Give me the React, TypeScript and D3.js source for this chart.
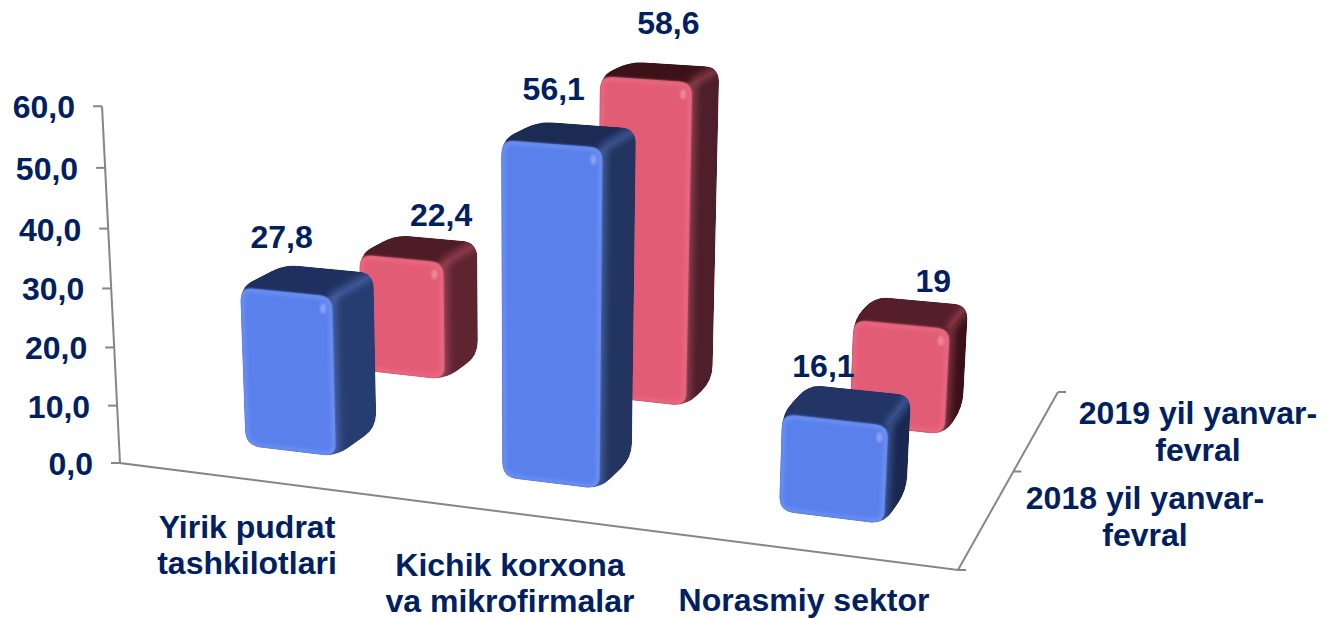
import * as d3 from "d3";

const categories = ["Yirik pudrat tashkilotlari", "Kichik korxona va mikrofirmalar", "Norasmiy sektor"];
const categoryLines = [["Yirik pudrat", "tashkilotlari"], ["Kichik korxona", "va mikrofirmalar"], ["Norasmiy sektor"]];
const seriesNames = ["2018 yil yanvar-fevral", "2019 yil yanvar-fevral"];
const seriesLines = [["2018 yil yanvar-", "fevral"], ["2019 yil yanvar-", "fevral"]];
const values2018 = [27.8, 56.1, 16.1];
const values2019 = [22.4, 58.6, 19];
const labels2018 = ["27,8", "56,1", "16,1"];
const labels2019 = ["22,4", "58,6", "19"];
const yTicks = [0, 10, 20, 30, 40, 50, 60];

// floor corners of the 3d box on screen: front-left, front-right, back-right, back-left
const floor = [[120, 463], [958, 570], [1058, 392], [358, 320]];
const navy = "#002060";
const axisGrey = "#868686";
const fontSize = 32;

const [x0, y0] = floor[0], [x1, y1] = floor[1], [x2, y2] = floor[2], [x3, y3] = floor[3];
const sx = x0 - x1 + x2 - x3, sy = y0 - y1 + y2 - y3;
const dx1 = x1 - x2, dx2 = x3 - x2, dy1 = y1 - y2, dy2 = y3 - y2;
const det = dx1 * dy2 - dx2 * dy1;
const g = (sx * dy2 - dx2 * sy) / det;
const h = (dx1 * sy - sx * dy1) / det;
// column for the value direction
const zw = -0.0007, zx = -0.371, zy = -6.02;

function project(u: number, v: number, val: number): [number, number] {
  const s = u / 3, t = v / 2;
  const w = g * s + h * t + 1 + zw * val;
  const X = (x1 - x0 + g * x1) * s + (x3 - x0 + h * x3) * t + x0 + zx * val;
  const Y = (y1 - y0 + g * y1) * s + (y3 - y0 + h * y3) * t + y0 + zy * val;
  return [X / w, Y / w];
}

const uScale = d3.scaleBand<string>().domain(categories).range([0.008, 3.008]).paddingInner(0.64).paddingOuter(0.32);
const vScale = d3.scaleBand<string>().domain(seriesNames).range([0, 2]).paddingInner(0.65).paddingOuter(0.325);
const yScale = d3.scaleLinear().domain([0, 60]).range([0, 60]);

function rounded(points: [number, number][], r: number) {
  const p = d3.path();
  const n = points.length;
  points.forEach((pt, i) => {
    const prev = points[(i + n - 1) % n], next = points[(i + 1) % n];
    const toward = (a: [number, number], b: [number, number]) => {
      const d = Math.hypot(b[0] - a[0], b[1] - a[1]);
      const k = Math.min(r, d / 2) / d;
      return [a[0] + (b[0] - a[0]) * k, a[1] + (b[1] - a[1]) * k];
    };
    const a = toward(pt, prev), b = toward(pt, next);
    if (i === 0) p.moveTo(a[0], a[1]);
    else p.lineTo(a[0], a[1]);
    p.quadraticCurveTo(pt[0], pt[1], b[0], b[1]);
  });
  p.closePath();
  return p.toString();
}

const polygon = (pts: [number, number][]) => d3.line()(pts) + "Z";

const blueStyle = { front: "#5A80EC", edge: "#7FA2FF", side: ["#273C70", "#22345F", "#182850"], top: ["#1F3060", "#1B2B54", "#223566"] };
const pinkStyle = { front: "#E25B74", edge: "#F77890", side: ["#5E2430", "#4E1E2A", "#3C1018"], top: ["#4E1C26", "#3C1218", "#561E2A"] };

function Bar({ id, cat, series, value, style }: any) {
  const i = categories.indexOf(cat);
  const uL = uScale(cat)!, uR = uL + uScale.bandwidth();
  const vF = vScale(series)!, vB = vF + vScale.bandwidth();
  const top = yScale(value);
  const fbl = project(uL, vF, 0), fbr = project(uR, vF, 0), bbr = project(uR, vB, 0);
  const ftl = project(uL, vF, top), ftr = project(uR, vF, top), btr = project(uR, vB, top), btl = project(uL, vB, top);
  const front: [number, number][] = [fbl, fbr, ftr, ftl];
  const frontPath = rounded(front, 13);
  return (
    <g>
      <clipPath id={id}>
        <path d={rounded([fbl, fbr, bbr, btr, btl, ftl], 15)} />
      </clipPath>
      <clipPath id={id + "f"}>
        <path d={frontPath} />
      </clipPath>
      <g clipPath={`url(#${id})`}>
        <path d={rounded([fbl, fbr, bbr, btr, btl, ftl], 15)} fill={style.side[i]} />
        <path d={polygon([ftl, ftr, btr, btl])} fill={style.top[i]} />
        <path d={polygon([ftr, btr])} fill="none" stroke={style.edge} strokeOpacity={0.3} strokeWidth={9} filter="url(#soft3)" />
        <path d={polygon([fbr, ftr])} fill="none" stroke={style.edge} strokeOpacity={0.3} strokeWidth={10} filter="url(#soft3)" />
        <path d={frontPath} fill={style.front} filter="url(#soft1)" />
        <g clipPath={`url(#${id}f)`}>
          <path d={frontPath} fill="none" stroke={style.edge} strokeWidth={6} strokeOpacity={0.6} filter="url(#soft2)" />
        </g>
        <ellipse cx={ftr[0] - 9} cy={ftr[1] + 12} rx={3} ry={5} fill="#fff" fillOpacity={0.28} filter="url(#soft1)" />
      </g>
    </g>
  );
}

const labelNudge2018 = [[-47, -21], [-33, -25], [-36, -13]];
const labelNudge2019 = [[5, -13], [-6, -30], [12, -9]];

function DataLabel({ cat, series, value, text, nudge }: any) {
  const u = uScale(cat)! + uScale.bandwidth() / 2;
  const v = vScale(series)! + vScale.bandwidth();
  const [x, y] = project(u, v, yScale(value));
  return (
    <text x={x + nudge[0]} y={y + nudge[1]} textAnchor="middle" fontSize={fontSize} fontWeight="bold" fill={navy}>
      {text}
    </text>
  );
}

export default function App() {
  const o = project(0, 0, 0);
  const fr = project(3, 0, 0);
  const br = project(3, 2, 0);
  const mid = project(3, 1, 0);
  const yTop = project(0, 0, 60);
  return (
    <svg width={1335} height={619} style={{ position: "absolute", left: 0, top: 0, fontFamily: "'Liberation Sans', Arial, sans-serif" }}>
      <defs>
        <filter id="soft1" x="-100%" y="-100%" width="300%" height="300%"><feGaussianBlur stdDeviation={1.2} /></filter>
        <filter id="soft2" x="-20%" y="-20%" width="140%" height="140%"><feGaussianBlur stdDeviation={2} /></filter>
        <filter id="soft3" filterUnits="userSpaceOnUse" x="0" y="0" width="1335" height="619"><feGaussianBlur stdDeviation={3} /></filter>
      </defs>

      <g stroke={axisGrey} strokeWidth={2} fill="none">
        <path d={polygon([yTop, o, fr, br]).replace("Z", "")} />
        {yTicks.map((t) => {
          const p = project(0, 0, yScale(t));
          return <line key={t} x1={p[0] - 9} x2={p[0]} y1={p[1]} y2={p[1]} />;
        })}
        {[fr, mid, br].map((p, i) => (
          <line key={i} x1={p[0]} x2={p[0] + 8} y1={p[1]} y2={p[1]} />
        ))}
      </g>

      {yTicks.map((t) => {
        const p = project(0, 0, yScale(t));
        return (
          <text key={t} x={p[0] - 27} y={p[1] + 12} textAnchor="end" fontSize={fontSize} fontWeight="bold" fill={navy}>
            {t.toFixed(1).replace(".", ",")}
          </text>
        );
      })}

      {categories.map((c, i) => (
        <Bar key={c} id={`p${i}`} cat={c} series={seriesNames[1]} value={values2019[i]} style={pinkStyle} />
      ))}
      {categories.map((c, i) => (
        <Bar key={c} id={`b${i}`} cat={c} series={seriesNames[0]} value={values2018[i]} style={blueStyle} />
      ))}

      {categories.map((c, i) => (
        <DataLabel key={c} cat={c} series={seriesNames[1]} value={values2019[i]} text={labels2019[i]} nudge={labelNudge2019[i]} />
      ))}
      {categories.map((c, i) => (
        <DataLabel key={c} cat={c} series={seriesNames[0]} value={values2018[i]} text={labels2018[i]} nudge={labelNudge2018[i]} />
      ))}

      {categoryLines.map((lines, i) => {
        const anchors = [[247, 538], [510, 576], [804, 611]];
        return lines.map((l, j) => (
          <text key={l} x={anchors[i][0]} y={anchors[i][1] + j * 36} textAnchor="middle" fontSize={fontSize} fontWeight="bold" fill={navy}>
            {l}
          </text>
        ));
      })}
      {seriesLines.map((lines, i) => {
        const anchors = [[1145, 509], [1198, 424]];
        return lines.map((l, j) => (
          <text key={l} x={anchors[i][0]} y={anchors[i][1] + j * 37} textAnchor="middle" fontSize={fontSize} fontWeight="bold" fill={navy}>
            {l}
          </text>
        ));
      })}
    </svg>
  );
}
